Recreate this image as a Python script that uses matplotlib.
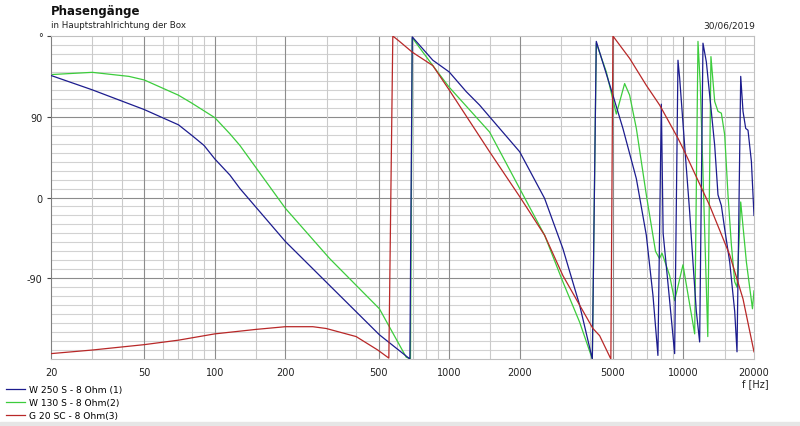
import numpy as np
import matplotlib
matplotlib.use('Agg')
import matplotlib.pyplot as plt
from matplotlib.patches import Rectangle

# W 250 S - 8 Ohm (1)
freq_b = [20, 30, 50, 70, 80, 90, 100, 116, 128, 200, 309, 504, 680,
          696, 852, 1000, 1183, 1349, 1488, 2000, 2555, 3058, 3606, 4084,
          4246, 5000, 5516, 6294, 6942, 7410, 7780,
          8046, 8190, 8730, 9170,
          9476, 9634, 10116, 10628, 10978, 11350, 11724,
          12114, 12524, 12940, 13592, 14040, 14512, 14994, 15752, 16546, 16924,
          17552, 17952, 18434, 18856, 19496, 20000]
phase_b = [136, 120, 98, 81, 69, 58, 43, 25, 10, -49, -98, -153, -180,
           179, 153, 140, 118, 103, 90, 51, -1, -57, -120, -180,
           174, 114, 77, 21, -42, -109, -176,
           104, -40, -115, -174,
           153, 133, 58, -16, -72, -127, -161,
           172, 151, 114, 58, 3, -9, -35, -72, -127, -172,
           135, 96, 77, 75, 40, -20]

# W 130 S - 8 Ohm(2)
freq_g = [20, 30, 43, 50, 70, 80, 100, 116, 128, 200, 309, 504, 656, 684,
          696, 852, 1000, 1488, 2000, 2555, 3058, 3606, 4084,
          4246, 4686, 5170, 5610, 5894, 6294, 6942, 7600, 7900, 8100, 8730, 9170, 9952, 11166,
          11534, 11800, 12200, 12700, 13100, 13592, 14040, 14512, 14994, 15490, 16016,
          16546, 16924, 17552, 18560, 19700, 20000]
phase_g = [137, 139.5, 135, 131, 114, 105, 89, 71, 58, -12, -68, -124, -178, -180,
           178, 147, 123, 73, 10, -42, -94, -139, -180,
           172, 140, 93, 127, 114, 77, 3, -60, -68, -62, -87, -115, -75, -152,
           174, 125, 0, -155, 157, 107, 96, 94, 70, 3, -53,
           -94, -100, -5, -72, -124, -104]

# G 20 SC - 8 Ohm(3)
freq_r = [20, 30, 50, 70, 100, 150, 200, 262, 299, 401, 496, 553, 575,
          614, 696, 852, 1000, 1488, 2000, 2555, 3058, 3606, 4108, 4388, 4900,
          5000, 5894, 6942, 7914, 9476, 10116, 12940, 15752, 17952, 20000]
phase_r = [-174, -170, -164, -159, -152, -147, -144, -144, -146, -155, -170, -179, 180,
           174, 162, 147, 120, 51, 1, -42, -87, -120, -146, -154, -180,
           180, 155, 125, 103, 66, 51, -9, -64, -113, -172]

labels = ['W 250 S - 8 Ohm (1)', 'W 130 S - 8 Ohm(2)', 'G 20 SC - 8 Ohm(3)']
colors = ['#1c1c8e', '#3ccc3c', '#b82828']

x_ticks = [20, 50, 100, 200, 500, 1000, 2000, 5000, 10000, 20000]
x_minor = [30, 40, 60, 70, 80, 90, 150, 300, 400, 600, 700, 800, 900,
           1500, 3000, 4000, 6000, 7000, 8000, 9000, 15000]
y_ticks = [-90, 0, 90, 180]
y_labels = ['-90', '0', '90', '°']

fig = plt.figure(figsize=(8, 4.27), dpi=100)
ax = fig.add_axes([51/800, 1-360/427, 703/800, 323/427])
ax.set_xscale('log')
ax.set_xlim(20, 20000)
ax.set_ylim(-180, 180)

for y in range(-170, 180, 10):
    c = '#8c8c8c' if y in (-90, 0, 90) else '#d2d2d2'
    ax.axhline(y, color=c, lw=0.8, zorder=0)
for x in x_minor:
    ax.axvline(x, color='#cacaca', lw=0.8, zorder=0)
for x in x_ticks[1:-1]:
    ax.axvline(x, color='#8c8c8c', lw=0.8, zorder=0)

ax.plot(freq_g, phase_g, color=colors[1], lw=0.9, zorder=2)
ax.plot(freq_b, phase_b, color=colors[0], lw=0.9, zorder=3)
ax.plot(freq_r, phase_r, color=colors[2], lw=0.9, zorder=4)

ax.set_xticks(x_ticks)
ax.set_xticklabels([str(t) for t in x_ticks])
ax.xaxis.set_minor_locator(matplotlib.ticker.NullLocator())
ax.set_yticks(y_ticks)
ax.set_yticklabels(y_labels)
ax.tick_params(axis='x', length=0, pad=6, labelsize=7, labelcolor='#222222')
ax.tick_params(axis='y', length=3, width=0.8, color='#444444', pad=3,
               labelsize=7, labelcolor='#222222')
for s in ['top', 'right', 'bottom']:
    ax.spines[s].set_color('#c0c0c0')
    ax.spines[s].set_linewidth(0.8)
ax.spines['left'].set_color('#808080')
ax.spines['left'].set_linewidth(0.8)

fig.text(51/800, 1-12/427, 'Phasengänge', fontsize=8.5, weight='bold',
         va='center', color='#111111')
fig.text(51/800, 1-26/427, 'in Hauptstrahlrichtung der Box', fontsize=6.3,
         va='center', color='#222222')
fig.text(755/800, 1-26/427, '30/06/2019', fontsize=6.5, ha='right',
         va='center', color='#222222')
fig.text(742/800, 1-384/427, 'f [Hz]', fontsize=7, ha='left',
         va='center', color='#222222')

handles = [plt.Line2D([], [], color=c, lw=0.9) for c in colors]
fig.legend(handles, labels, loc='lower left', bbox_to_anchor=(0.0, -0.002),
           frameon=False, fontsize=6.6, handlelength=2.0, handletextpad=0.45,
           labelspacing=0.45, borderaxespad=0.3)

fig.patches.append(Rectangle((0, 0), 1, 4/427, transform=fig.transFigure,
                             color='#e6e6e6', zorder=0))

fig.savefig('out.png', dpi=100)
